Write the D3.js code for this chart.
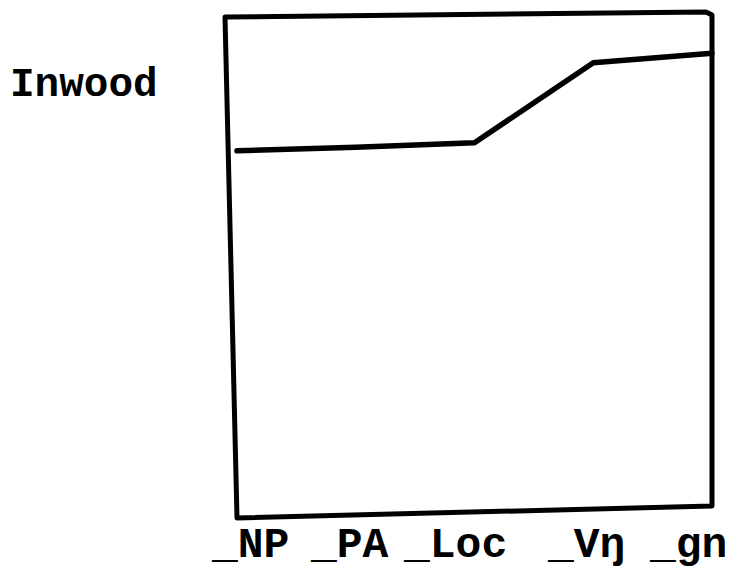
<!DOCTYPE html>
<html>
<head>
<meta charset="utf-8">
<script src="https://cdn.jsdelivr.net/npm/d3@7"></script>
<style>
  body { margin: 0; background: #fff; }
  svg { display: block; }
  text { font-family: "Liberation Mono", "DejaVu Sans Mono", monospace; font-weight: bold; fill: #000; }
</style>
</head>
<body>
<div class="canvas"></div>
<script>
// data
const categories = ['_NP', '_PA', '_Loc', '_Vŋ', '_gn'];
const inwood = [73, 73.7, 74.6, 90.5, 92.4];
const rowLabel = 'Inwood';

const W = 741, H = 569;
const m = {t: 15, r: 29, b: 54, l: 231};

const svg = d3.select('.canvas').append('svg')
  .attr('width', W)
  .attr('height', H);

// positions of the line vertices
const x = d3.scaleLinear()
  .domain([0, categories.length - 1])
  .range([m.l + 6, W - m.r]);

const y = d3.scaleLinear()
  .domain([0, 100])
  .range([H - m.b + 3, m.t]);

// label start positions (typed by hand in the original, uneven)
const xl = d3.scaleOrdinal()
  .domain(categories)
  .range([212, 311, 404, 548, 650]);

// frame (scan is a little skewed)
const x0 = x.range()[0], x1 = x.range()[1];
const yB = y.range()[0], yT = y.range()[1];
const frame = [
  [x0 - 12, yT + 2],
  [x1 - 6, yT - 3],
  [x1, yT],
  [x1, yB - 12],
  [x0, yB],
];
svg.append('path')
  .attr('d', d3.line()(frame) + 'Z')
  .attr('fill', 'none')
  .attr('stroke', '#000')
  .attr('stroke-width', 5)
  .attr('stroke-linejoin', 'round');

// the data line
svg.append('path')
  .datum(inwood)
  .attr('d', d3.line().x((d, i) => x(i)).y(d => y(d)))
  .attr('fill', 'none')
  .attr('stroke', '#000')
  .attr('stroke-width', 5.5)
  .attr('stroke-linecap', 'round')
  .attr('stroke-linejoin', 'round');

// row label
svg.append('text')
  .attr('x', 10)
  .attr('y', 96)
  .style('font-size', '41px')
  .text(rowLabel);

// category labels
svg.append('g')
  .selectAll('text')
  .data(categories)
  .enter()
  .append('text')
  .attr('x', d => xl(d))
  .attr('y', 557)
  .style('font-size', '43px')
  .text(d => d);
</script>
</body>
</html>
